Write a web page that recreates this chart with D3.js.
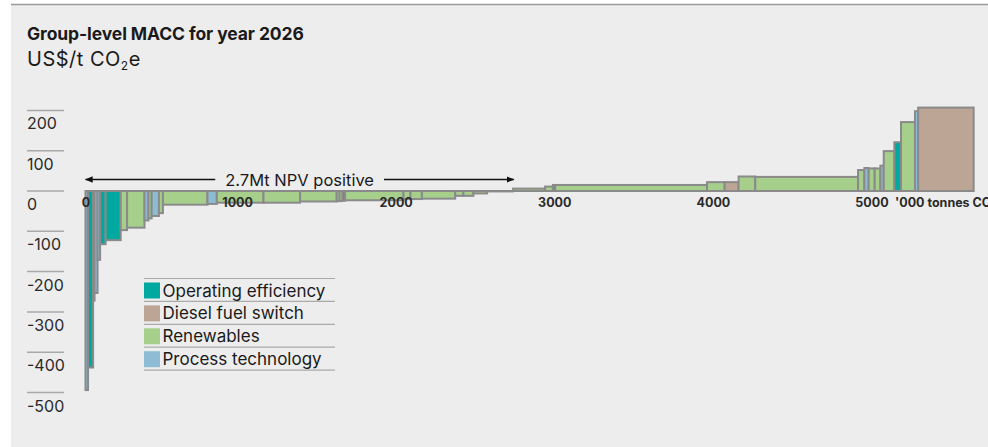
<!DOCTYPE html>
<html>
<head>
<meta charset="utf-8">
<script src="https://cdn.jsdelivr.net/npm/d3@7"></script>
<style>
  html, body { margin: 0; padding: 0; background: #ffffff; }
  svg { display: block; font-family: Inter, "Open Sans", sans-serif; }
</style>
</head>
<body>
<svg id="chart" width="988" height="447"></svg>
<script>
// Abatement levers shown in the legend
const categories = ["Operating efficiency", "Diesel fuel switch", "Renewables", "Process technology"];
const categoryCodes = ["OE", "DF", "RE", "PT"];
const categoryColors = ["#00a99f", "#bca594", "#a6cf8c", "#8dbcd4"];

// One entry per abatement opportunity, ordered by cost
const barLevers = [
  "PT", "OE", "OE", "PT", "PT", "OE", "OE", "RE", "RE", "PT",
  "RE", "PT", "RE", "RE", "PT", "RE", "RE", "RE", "RE", "RE",
  "OE", "RE", "RE", "RE", "RE", "RE", "RE", "RE", "RE",
  "RE", "RE", "OE", "RE", "RE", "DF", "RE", "RE", "RE", "PT",
  "RE", "RE", "PT", "RE", "OE", "RE", "PT", "DF"
];
// Abatement volume, '000 tonnes CO2e
const barVolumes = [
  16, 32, 9, 19, 16, 35, 95, 40, 110, 25,
  20, 46, 25, 281, 59, 294, 231, 231, 18, 19,
  16, 368, 44, 72, 210, 52, 63, 86, 164,
  202, 49, 15, 957, 111, 88, 105, 648, 40, 27,
  38, 36, 21, 67, 42, 88, 20, 350
];
// Marginal abatement cost, US$/t CO2e
const barCosts = [
  -494, -438, -272, -253, -171, -132, -122, -97, -91, -73,
  -68, -62, -55, -34, -32, -29, -29, -26, -25, -25,
  -24, -23, -20, -20, -19, -12, -12, -6, -1,
  6, 11, 15, 15, 22, 22, 36, 35, 52, 57,
  56, 56, 63, 99, 121, 171, 198, 207
];

const yTicks = [200, 100, 0, -100, -200, -300, -400, -500];
const yTickLabels = ["200", "100", "0", "-100", "-200", "-300", "-400", "-500"];
const xTicks = [0, 1000, 2000, 3000, 4000, 5000];
const xTickLabels = ["0", "1000", "2000", "3000", "4000", "5000"];
const xUnitLabel = "'000 tonnes CO₂e";
const npvPositiveVolume = 2700;
const npvLabel = "2.7Mt NPV positive";

const svg = d3.select("#chart");
const W = 988, H = 447;

// panel background
svg.append("rect").attr("x", 11).attr("y", 4).attr("width", W - 11).attr("height", H - 4)
  .attr("fill", "#ededed");
svg.append("line").attr("x1", 11).attr("x2", W).attr("y1", 4.5).attr("y2", 4.5)
  .attr("stroke", "#9b9b9b").attr("stroke-width", 1.5);

// titles
svg.append("text").attr("x", 27).attr("y", 40)
  .attr("font-size", 17.5).attr("font-weight", 700).attr("fill", "#1a1a1a")
  .attr("letter-spacing", -0.1)
  .text("Group-level MACC for year 2026");
const sub = svg.append("text").attr("x", 27).attr("y", 66)
  .attr("font-size", 20).attr("letter-spacing", 0.5).attr("fill", "#1a1a1a");
sub.append("tspan").text("US$/t CO");
sub.append("tspan").attr("font-size", 12).attr("dy", 4).text("2");
sub.append("tspan").attr("dy", -4).text("e");

// scales
const x = d3.scaleLinear().domain([0, 5000]).range([85.5, 878.5]);
const y = d3.scaleLinear().domain([-500, 200]).range([392.5, 110.4]);
const color = d3.scaleOrdinal().domain(categoryCodes).range(categoryColors);

// y ticks: short rule with the label underneath
const yG = svg.append("g");
yG.selectAll("line").data(yTicks).join("line")
  .attr("x1", 27).attr("x2", 64)
  .attr("y1", d => y(d)).attr("y2", d => y(d))
  .attr("stroke", "#a9a9a9").attr("stroke-width", 1.5);
yG.selectAll("text").data(yTicks).join("text")
  .attr("x", 27).attr("y", d => y(d) + 19)
  .attr("font-size", 16).attr("fill", "#2a2a2a")
  .text((d, i) => yTickLabels[i]);

// bars laid end to end along the cumulative volume axis
let cum = 0;
const bars = barVolumes.map((v, i) => {
  const b = { x0: cum, x1: cum + v, cost: barCosts[i], lever: barLevers[i] };
  cum += v;
  return b;
});
svg.append("g").selectAll("rect").data(bars).join("rect")
  .attr("x", d => x(d.x0))
  .attr("width", d => x(d.x1) - x(d.x0))
  .attr("y", d => y(Math.max(0, d.cost)))
  .attr("height", d => Math.abs(y(d.cost) - y(0)))
  .attr("fill", d => color(d.lever))
  .attr("stroke", "#8a8a8a").attr("stroke-width", 2);

// x tick labels on the zero line
svg.append("g").selectAll("text").data(xTicks).join("text")
  .attr("x", (d, i) => i === 0 ? x(d) + 0.5 : x(d) - 6.5)
  .attr("y", y(0) + 16)
  .attr("text-anchor", "middle")
  .attr("font-size", 12.5).attr("font-weight", 700).attr("fill", "#2a2a2a")
  .text((d, i) => xTickLabels[i]);
svg.append("text").attr("x", 895).attr("y", y(0) + 16)
  .attr("font-size", 12.5).attr("font-weight", 700).attr("fill", "#2a2a2a")
  .text(xUnitLabel);

// NPV-positive span arrow
const defs = svg.append("defs");
defs.append("marker").attr("id", "arrowHead")
  .attr("viewBox", "0 0 10 10").attr("refX", 9).attr("refY", 5)
  .attr("markerWidth", 8).attr("markerHeight", 8).attr("markerUnits", "userSpaceOnUse")
  .attr("orient", "auto-start-reverse")
  .append("path").attr("d", "M0,1 L10,5 L0,9 Z").attr("fill", "#111");

const arrowY = 179.5;
const ax0 = x(0), ax1 = x(npvPositiveVolume);
const npvText = svg.append("text")
  .attr("x", (ax0 + ax1) / 2).attr("y", arrowY + 6)
  .attr("text-anchor", "middle").attr("font-size", 16.5).attr("fill", "#1a1a1a")
  .text(npvLabel);
const tw = npvText.node().getComputedTextLength();
const gap = 10;
svg.append("line").attr("x1", (ax0 + ax1) / 2 - tw / 2 - gap).attr("x2", ax0)
  .attr("y1", arrowY).attr("y2", arrowY)
  .attr("stroke", "#111").attr("stroke-width", 1.5).attr("marker-end", "url(#arrowHead)");
svg.append("line").attr("x1", (ax0 + ax1) / 2 + tw / 2 + gap).attr("x2", ax1)
  .attr("y1", arrowY).attr("y2", arrowY)
  .attr("stroke", "#111").attr("stroke-width", 1.5).attr("marker-end", "url(#arrowHead)");

// legend
const lg = svg.append("g").attr("transform", "translate(144,278.5)");
const rowH = 22.9;
lg.selectAll("line").data(d3.range(categories.length + 1)).join("line")
  .attr("x1", 0).attr("x2", 191)
  .attr("y1", d => d * rowH).attr("y2", d => d * rowH)
  .attr("stroke", "#aaaaaa").attr("stroke-width", 1.2);
const rows = lg.selectAll("g.row").data(categories).join("g").attr("class", "row")
  .attr("transform", (d, i) => `translate(0,${i * rowH})`);
rows.append("rect").attr("x", 0).attr("y", 4).attr("width", 16).attr("height", 16)
  .attr("fill", (d, i) => categoryColors[i]);
rows.append("text").attr("x", 18.5).attr("y", 18)
  .attr("font-size", 17).attr("fill", "#1a1a1a").text(d => d);
</script>
</body>
</html>
